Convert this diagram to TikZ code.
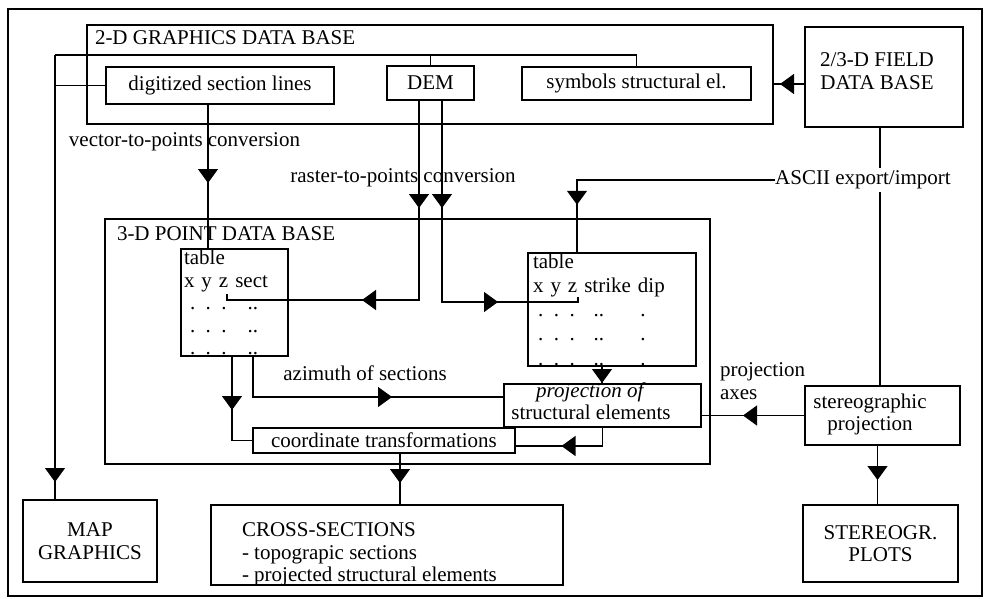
\documentclass[tikz,border=0pt]{standalone}
\usepackage{fontspec}
\setmainfont{Liberation Serif}
\usetikzlibrary{arrows.meta, decorations.markings}

\begin{document}
\begin{tikzpicture}[x=1pt, y=-1pt, >={Triangle[length=14pt, width=20pt]}, line width=1.2pt,
    every node/.style={font=\fontsize{21}{22.5}\selectfont, inner sep=0pt, outer sep=0pt},
    box/.style={rectangle, draw, align=center},
    arrowat/.style={postaction={decorate, decoration={markings, mark=at position #1 with {\arrow{>}}}}}]
    \useasboundingbox (0,0) rectangle (985,599);
    \draw (8,9) rectangle (982,596);

    % Nodes
    \node [box, minimum width=686pt, minimum height=99pt] (gfx) at (430,74.5) {};
    \node [box, minimum width=228pt, minimum height=37pt] (dsl) at (220,85.5) {digitized section lines};
    \node [box, minimum width=87pt, minimum height=34pt] (dem) at (430.5,83) {DEM};
    \node [box, minimum width=229pt, minimum height=33pt] (sym) at (636.5,83.5) {symbols structural el.};
    \node [box, minimum width=158pt, minimum height=100pt] (field) at (884,77) {};
    \node [box, minimum width=605pt, minimum height=245pt] (pdb) at (407.5,341.5) {};
    \node [box, align=left, inner xsep=3pt, text width=101pt, minimum height=107pt] (tabA) at (234.5,302.5)
        {table\\x y z sect\\\hspace*{6pt}. . .\hspace{21pt}..\\\hspace*{6pt}. . .\hspace{21pt}..\\\hspace*{6pt}. . .\hspace{21pt}..};
    \node [box, align=left, inner xsep=5pt, text width=158pt, minimum height=113pt] (tabB) at (612,309.5)
        {table\\[1.7pt]x y z strike dip\\[1.7pt]\hspace*{5pt}. . .\hspace{19pt}..\hspace{36pt}.\\[1.7pt]\hspace*{5pt}. . .\hspace{19pt}..\hspace{36pt}.\\[1.7pt]\hspace*{5pt}. . .\hspace{19pt}..\hspace{36pt}.};
    \node [box, minimum width=197pt, minimum height=43pt] (proj) at (602.5,405.5) {};
    \node [box, minimum width=262pt, minimum height=25pt] (coord) at (384,440.5) {coordinate transformations};
    \node [box, minimum width=352pt, minimum height=80pt] (cross) at (387,545) {};
    \node [box, minimum width=134pt, minimum height=82pt] (map) at (90,541) {MAP\\GRAPHICS};
    \node [box, minimum width=155pt, minimum height=59pt] (stereo) at (882.5,415.5) {};
    \node [box, minimum width=155pt, minimum height=77pt] (plots) at (880.5,543.5) {STEREOGR.\\PLOTS};
    \coordinate (busl) at (55,55);
    \coordinate (xyzA) at ([xshift=46pt, yshift=-45pt]tabA.north west);
    \coordinate (xyzB) at ([xshift=50pt, yshift=-44pt]tabB.north west);

    % Texts
    \node [anchor=base west] (gfx-title) at (95,45) {2-D GRAPHICS DATA BASE};
    \node [anchor=base west] (pdb-title) at (117,240) {3-D POINT DATA BASE};
    \node [align=center] (field-txt) at (877,71) {2/3-D FIELD\\DATA BASE};
    \node [align=center] (proj-txt) at (591,401) {\textit{projection of}\\structural elements};
    \node [align=center] (stereo-txt) at (870,414.5) {stereographic\\projection};
    \node [align=left, anchor=north west] (cross-txt) at (242,523) {CROSS-SECTIONS\\- topograpic sections\\- projected structural elements};
    \node (vec) at (184.5,142) {vector-to-points conversion};
    \node (ras) at (403,178) {raster-to-points conversion};
    \node [inner ysep=3pt] (ascii) at (863,180) {ASCII export/import};
    \node (azi) at (365,373) {azimuth of sections};
    \node [align=left, anchor=north west] (pax) at (720,363) {projection\\axes};

    % Arrows
    \draw (sym.north) |- (busl);
    \draw (dem.north) -- (dem.north |- busl);
    \draw (dsl.west) -- (dsl.west -| busl);
    \draw [arrowat=427pt] (busl) -- (busl |- map.north);
    \draw [arrowat=25pt] ([yshift=-7pt]field.west) -- ([yshift=-7pt]field.west -| gfx.east);
    \draw [arrowat=79pt] ([xshift=-12pt]dsl.south) -- ([xshift=-12pt]dsl.south |- tabA.north);
    \draw [arrowat=108pt, arrowat=257pt] ([xshift=-11.5pt]dem.south) |- ([yshift=-6pt]xyzA) -- (xyzA);
    \draw [arrowat=108pt, arrowat=258pt] ([xshift=11.5pt]dem.south) |- ([yshift=-5pt]xyzB) -- (xyzB);
    \draw ([xshift=-4pt]field.south) -- ([xshift=-4pt]field.south |- ascii.north);
    \draw ([xshift=-4pt]field.south |- ascii.south) -- ([xshift=-4pt]field.south |- stereo.north);
    \draw [arrowat=223pt] (ascii.west) -| ([xshift=-35pt]tabB.north);
    \draw [arrowat=180pt] ([xshift=18.5pt]tabA.south) |- ([yshift=8.5pt]proj.west);
    \draw [arrowat=54pt] ([xshift=-2.5pt]tabA.south) |- (coord.west);
    \draw [arrowat=17pt] ([xshift=-10pt]tabB.south) -- ([xshift=-10pt]tabB.south |- proj.north);
    \draw [arrowat=60pt] (proj.south) |- ([yshift=-5.5pt]coord.east);
    \draw [arrowat=30pt] ([xshift=16pt]coord.south) -- ([xshift=16pt]coord.south |- cross.north);
    \draw [arrowat=62pt] (stereo.west) -- (stereo.west -| proj.east);
    \draw [arrowat=35pt] ([xshift=-5pt]stereo.south) -- ([xshift=-5pt]stereo.south |- plots.north);

\end{tikzpicture}
\end{document}
